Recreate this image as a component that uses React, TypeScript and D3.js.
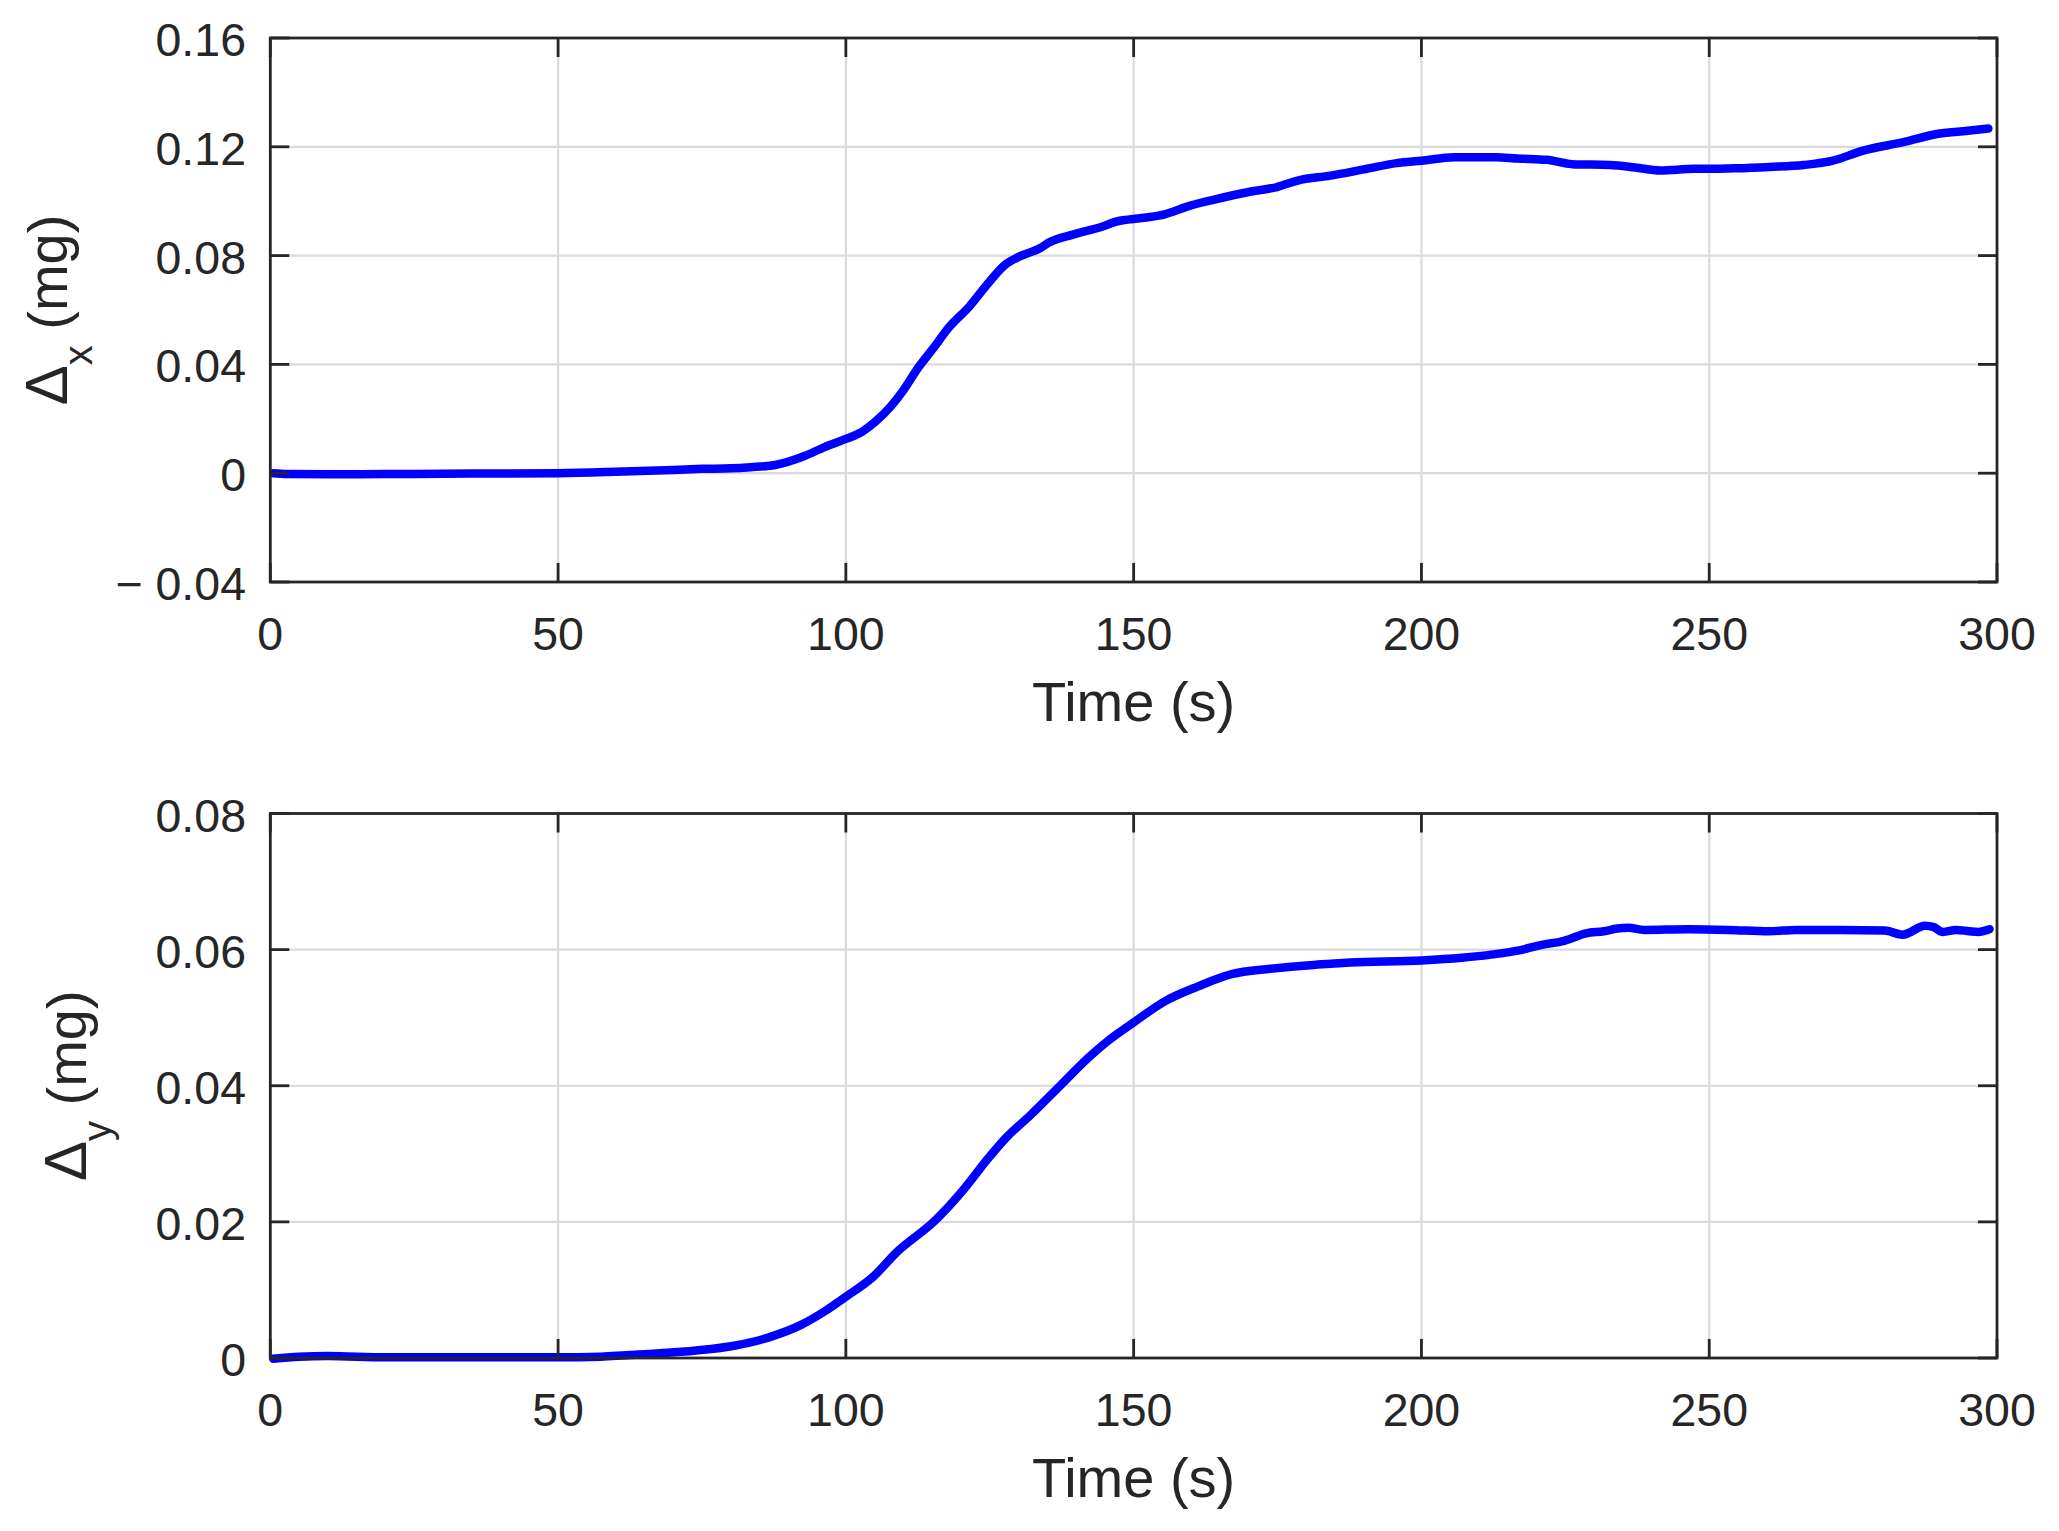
import React, { useEffect } from "react";
import * as d3 from "d3";

// ---------- data ----------
const timeX = [0.5, 3, 10, 20, 30, 40, 50, 60, 70, 75, 80, 83.4, 87.7, 92.7, 96.3, 100, 102.8, 105, 107.9, 110, 112.5, 115, 118, 121.5, 124.4, 127.7, 130.2, 133.8, 135.2, 139.6, 144.6, 146.8, 151.8, 155.4, 159.7, 164, 169.8, 174.9, 178.5, 184.2, 190, 195.7, 200, 205.7, 213, 216.7, 221.8, 226.2, 232.7, 237.1, 241.5, 247.4, 250, 254.7, 260.5, 266.4, 271.5, 276.6, 283.9, 289.8, 294.9, 298.5];
const deltaX = [0, -0.0003, -0.0004, -0.0003, -0.0002, -0.0001, 0, 0.0005, 0.0012, 0.0016, 0.0018, 0.0022, 0.003, 0.0062, 0.0096, 0.0126, 0.0152, 0.0187, 0.0248, 0.0305, 0.0386, 0.0454, 0.0538, 0.0614, 0.069, 0.0767, 0.0797, 0.0828, 0.0847, 0.0878, 0.0907, 0.0924, 0.0939, 0.0952, 0.0983, 0.1006, 0.1033, 0.1052, 0.1076, 0.1094, 0.1117, 0.114, 0.1149, 0.1162, 0.1162, 0.1157, 0.1152, 0.1136, 0.1133, 0.1124, 0.1113, 0.1119, 0.1119, 0.1121, 0.1126, 0.1133, 0.1149, 0.1185, 0.1218, 0.1248, 0.1259, 0.1267];

const timeY = [0.5, 5, 10, 20, 30, 40, 50, 57.4, 65.7, 74, 80.6, 86.5, 92.3, 96.4, 100, 104.7, 108.9, 115.5, 120.5, 124.7, 128, 132.1, 137.1, 142.1, 145.4, 150, 155.4, 161.2, 167, 173.7, 182, 187.6, 200, 207, 212.4, 217, 220.9, 224.8, 228.6, 231.7, 234, 236, 238.7, 246.4, 253.4, 260.4, 265, 272.8, 280.5, 283.6, 287.5, 289, 290.6, 292.9, 295.2, 296.7, 298.7];
const deltaY = [-0.0001, 0.0002, 0.0003, 0.0001, 0.0001, 0.0001, 0.0001, 0.0002, 0.0006, 0.0011, 0.0018, 0.003, 0.0049, 0.0069, 0.009, 0.0119, 0.0156, 0.0202, 0.0248, 0.0293, 0.0325, 0.0357, 0.0399, 0.0441, 0.0465, 0.0493, 0.0524, 0.0546, 0.0564, 0.0572, 0.0578, 0.0581, 0.0584, 0.0588, 0.0593, 0.0599, 0.0607, 0.0613, 0.0624, 0.0627, 0.0631, 0.0632, 0.0629, 0.063, 0.0629, 0.0627, 0.0629, 0.0629, 0.0628, 0.0622, 0.0635, 0.0633, 0.0626, 0.0629, 0.0627, 0.0626, 0.063];

const timeTicks = [0, 50, 100, 150, 200, 250, 300];
const ticksX = [-0.04, 0, 0.04, 0.08, 0.12, 0.16];
const tickLabelsX = ["\u2212 0.04", "0", "0.04", "0.08", "0.12", "0.16"];
const ticksY = [0, 0.02, 0.04, 0.06, 0.08];
const tickLabelsY = ["0", "0.02", "0.04", "0.06", "0.08"];

const W = 2059;
const H = 1531;
const FONT = "'Liberation Sans', Arial, Helvetica, sans-serif";
const INK = "#262626";
const GRID = "#dadada";

type PanelProps = {
  times: number[];
  values: number[];
  yDomain: [number, number];
  yTicks: number[];
  yTickLabels: string[];
  top: number;
  bottom: number;
  sub: string;
  labelX: number;
};

const LEFT = 270.3;
const RIGHT = 1997;

function Panel({ times, values, yDomain, yTicks, yTickLabels, top, bottom, sub, labelX }: PanelProps) {
  const x = d3.scaleLinear().domain([0, 300]).range([LEFT, RIGHT]);
  const y = d3.scaleLinear().domain(yDomain).range([bottom, top]);
  const pts = times.map((t, i) => [t, values[i]] as [number, number]);
  const line = d3
    .line<[number, number]>()
    .x((d) => x(d[0]))
    .y((d) => y(d[1]))
    .curve(d3.curveMonotoneX);
  const tickLen = 19;
  const midY = (top + bottom) / 2;
  return (
    <g>
      {/* grid */}
      {timeTicks.map((t) => (
        <line key={"gx" + t} x1={x(t)} x2={x(t)} y1={top} y2={bottom} stroke={GRID} strokeWidth={2.2} />
      ))}
      {yTicks.map((v) => (
        <line key={"gy" + v} x1={LEFT} x2={RIGHT} y1={y(v)} y2={y(v)} stroke={GRID} strokeWidth={2.2} />
      ))}
      {/* data */}
      <path d={line(pts) || ""} fill="none" stroke="#0000ff" strokeWidth={8.5} strokeLinejoin="round" strokeLinecap="round" />
      {/* ticks */}
      {timeTicks.map((t) => (
        <g key={"tx" + t}>
          <line x1={x(t)} x2={x(t)} y1={bottom} y2={bottom - tickLen} stroke={INK} strokeWidth={2.8} />
          <line x1={x(t)} x2={x(t)} y1={top} y2={top + tickLen} stroke={INK} strokeWidth={2.8} />
          <text x={x(t)} y={bottom + 68} textAnchor="middle" fontFamily={FONT} fontSize={46.5} fill={INK}>
            {t}
          </text>
        </g>
      ))}
      {yTicks.map((v, i) => (
        <g key={"ty" + v}>
          <line x1={LEFT} x2={LEFT + tickLen} y1={y(v)} y2={y(v)} stroke={INK} strokeWidth={2.8} />
          <line x1={RIGHT} x2={RIGHT - tickLen} y1={y(v)} y2={y(v)} stroke={INK} strokeWidth={2.8} />
          <text x={246} y={y(v) + 18} textAnchor="end" fontFamily={FONT} fontSize={46.5} fill={INK}>
            {yTickLabels[i]}
          </text>
        </g>
      ))}
      {/* box */}
      <rect x={LEFT} y={top} width={RIGHT - LEFT} height={bottom - top} fill="none" stroke={INK} strokeWidth={2.8} />
      {/* x label */}
      <text x={(LEFT + RIGHT) / 2} y={bottom + 139} textAnchor="middle" fontFamily={FONT} fontSize={56} fill={INK}>
        Time (s)
      </text>
      {/* y label */}
      <text
        transform={`translate(${labelX},${midY}) rotate(-90)`}
        textAnchor="middle"
        fontFamily={FONT}
        fontSize={56}
        fill={INK}
      >
        <tspan fontSize={60}>Δ</tspan>
        <tspan dy={25} fontSize={40}>{sub}</tspan>
        <tspan dy={-25}>{"\u00a0(mg)"}</tspan>
      </text>
    </g>
  );
}

export default function App() {
  useEffect(() => {
    document.body.style.margin = "0";
  }, []);
  return (
    <svg
      width={W}
      height={H}
      viewBox={`0 0 ${W} ${H}`}
      style={{ position: "absolute", left: 0, top: 0, display: "block", background: "#fff" }}
    >
      <rect x={0} y={0} width={W} height={H} fill="#fff" />
      <Panel
        times={timeX}
        values={deltaX}
        yDomain={[-0.04, 0.16]}
        yTicks={ticksX}
        yTickLabels={tickLabelsX}
        top={38}
        bottom={582}
        sub="x"
        labelX={67}
      />
      <Panel
        times={timeY}
        values={deltaY}
        yDomain={[0, 0.08]}
        yTicks={ticksY}
        yTickLabels={tickLabelsY}
        top={813.5}
        bottom={1358}
        sub="y"
        labelX={86}
      />
    </svg>
  );
}
